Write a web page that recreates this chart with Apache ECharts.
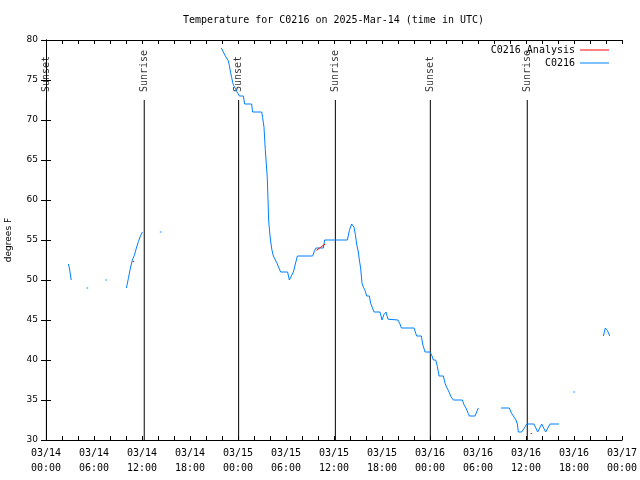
<!DOCTYPE html>
<html><head><meta charset="utf-8">
<script src="https://cdn.jsdelivr.net/npm/echarts@6/dist/echarts.min.js"></script>
<style>html,body{margin:0;padding:0;background:#fff}#c{width:640px;height:480px}</style>
</head><body><div id="c"></div>
<script>
const titleText = 'Temperature for C0216 on 2025-Mar-14 (time in UTC)';
const yAxisTitle = 'degrees F';
const dayLabels = ['03/14', '03/15', '03/16', '03/17'];
const hourLabels = ['00:00', '06:00', '12:00', '18:00'];

// Observations: hours since 03/14 00:00 UTC, temperature in F (null = gap)
const obsHours = [
  2.8, 2.92, 3.0, 3.08, 3.15, 3.2,
  5.08, 5.27, 5.3,
  7.43, 7.62, 7.65,
  10.05, 10.3, 10.55, 10.8, 11.05, 11.3, 11.55, 11.8, 12.05, 12.1,
  14.23, 14.42, 14.45,
  21.92, 22.17, 22.42, 22.66, 22.79, 22.92, 23.08, 23.21, 23.33, 23.46, 23.58, 23.71, 23.83, 23.96, 24.08, 24.17, 24.67, 24.83, 25.7, 25.83, 26.96,
  27.08, 27.25, 27.41, 27.66, 27.75, 27.83, 28.0, 28.13, 28.25, 28.42, 28.67, 28.83, 29.08, 29.33, 30.2, 30.42, 30.67, 30.92, 31.17, 31.42,
  33.33, 33.5, 33.75, 34.67, 34.83, 37.67, 37.92, 38.21, 38.5, 38.67, 38.83, 39.04, 39.17, 39.33, 39.5, 39.67, 39.88, 40.08, 40.42, 40.58,
  40.83, 41.0, 41.75, 42.0, 42.25, 42.5, 42.75, 44.0, 44.25, 44.42, 46.0, 46.33, 46.92, 47.08, 47.38, 48.0, 48.21, 48.42, 48.71, 48.92,
  49.13, 49.67, 49.88, 50.08, 50.38, 50.63, 50.92, 52.04, 52.25, 52.5, 52.79, 52.92, 53.63, 53.83, 54.04, 54.1,
  56.88, 57.92, 58.21, 58.42, 58.75, 58.92, 59.04, 59.46, 59.67, 59.92, 60.08, 61.0, 61.46, 61.96, 62.46, 63.0, 64.13, 64.2,
  65.93, 66.12, 66.15,
  69.67, 69.92, 70.17, 70.46
];
const obsTemps = [
  52, 51.5, 51, 50.5, 50, null,
  49, 49, null,
  50, 50, null,
  49, 50.2, 51.5, 52.5, 53.1, 54, 54.8, 55.5, 56, null,
  56, 56, null,
  79, 79, 78, 78, 77.4, 76.8, 75.9, 75.3, 74.7, 74.3, 74.1, 73.9, 73.6, 73.5, 73.4, 73, 73, 72, 72, 71, 71,
  70.3, 69.1, 66.3, 62.8, 60, 57.5, 55.5, 54.5, 53.7, 53, 53, 52.2, 52, 51, 51, 50, 50, 51, 52, 53,
  53, 53.5, 54, 54, 55, 55, 56.2, 57, 56.6, 55.7, 54.5, 53.5, 52.5, 51.5, 49.6, 49.1, 48.7, 48, 48, 47.1,
  47, 46, 46, 45, 45.7, 46, 45.1, 45, 44.5, 44, 44, 43, 43, 42, 41, 41, 40.6, 40, 40, 39.2,
  38, 38, 37.1, 36.6, 36, 35.4, 35, 35, 34.4, 34, 33.3, 33, 33, 33.5, 34, null,
  34, 34, 33.3, 33, 32.5, 32, 31, 31, 31.25, 31.7, 32, 32, 31, 32, 31, 32, 32, null,
  36, 36, null,
  43, 44, 43.7, 43
];

// Analysis points
const anaHours = [10.83, 11.02, 11.05, 33.8, 34.35, 34.9, 34.95, 60.58, 60.77];
const anaTemps = [52.3, 52.3, null, 53.7, 54.1, 54.5, null, 30.8, 30.8];

// Sun events (hours since 03/14 00:00 UTC)
const sunsetHours = [0.05, 24.08, 48.04];
const sunriseHours = [12.28, 36.17, 60.16];

const mono = 'DejaVu Sans Mono';
const sans = 'DejaVu Sans';

function pairs(hs, ts) {
  return hs.map((h, i) => [h, ts[i] === null ? '-' : ts[i]]);
}

const events = [];
sunsetHours.forEach(h => events.push({ h: h, name: 'Sunset' }));
sunriseHours.forEach(h => events.push({ h: h, name: 'Sunrise' }));
events.sort((a, b) => a.h - b.h);

const eventLineData = [];
events.forEach(e => {
  eventLineData.push([e.h, 30], [e.h, 72.5], [e.h, '-']);
});
const eventLabelData = events.map(e => [e.h, 73.5, e.name]);

const chart = echarts.init(document.getElementById('c'));

const baseX = {
  type: 'value', min: 0, max: 72, interval: 2,
  axisLine: { show: true, lineStyle: { color: '#000', width: 1 } },
  axisTick: { show: true, inside: true, length: 4, lineStyle: { color: '#000' } },
  splitLine: { show: false }
};
const baseY = {
  type: 'value', min: 30, max: 80, interval: 5,
  axisLine: { show: true, lineStyle: { color: '#000', width: 1 } },
  axisTick: { show: true, inside: true, length: 5, lineStyle: { color: '#000' } },
  splitLine: { show: false }
};

chart.setOption({
  animation: false,
  backgroundColor: '#fff',
  title: {
    text: titleText, left: 183, top: 15, padding: 0,
    textStyle: { fontFamily: mono, fontSize: 10, fontWeight: 'normal', color: '#000' }
  },
  legend: [
    {
      data: ['C0216 Analysis'], right: 31, top: 45, padding: 0, align: 'right',
      icon: 'rect', itemWidth: 29, itemHeight: 1,
      textStyle: { fontFamily: mono, fontSize: 10, color: '#000' }
    },
    {
      data: ['C0216'], right: 31, top: 58, padding: 0, align: 'right',
      icon: 'rect', itemWidth: 29, itemHeight: 1,
      textStyle: { fontFamily: mono, fontSize: 10, color: '#000' }
    }
  ],
  grid: { left: 46, right: 18, top: 40, bottom: 40, containLabel: false, outerBoundsMode: 'none' },
  xAxis: [
    Object.assign({}, baseX, {
      position: 'bottom',
      axisLabel: {
        show: true, margin: 6, lineHeight: 15, fontFamily: mono, fontSize: 10, color: '#000',
        formatter: function (v) {
          if (v % 6 !== 0) return '';
          return dayLabels[Math.floor(v / 24)] + '\n' + hourLabels[(v % 24) / 6];
        }
      }
    }),
    Object.assign({}, baseX, { position: 'top', axisLabel: { show: false } })
  ],
  yAxis: [
    Object.assign({}, baseY, {
      position: 'left',
      name: yAxisTitle, nameLocation: 'middle', nameRotate: 90, nameGap: 33,
      nameTextStyle: { fontFamily: sans, fontSize: 9, color: '#000' },
      axisLabel: { show: true, margin: 8, fontFamily: sans, fontSize: 9, color: '#000' }
    }),
    Object.assign({}, baseY, { position: 'right', axisLabel: { show: false } })
  ],
  series: [
    {
      name: 'sun events', type: 'line', data: eventLineData, showSymbol: false, symbol: 'none',
      lineStyle: { color: '#000', width: 1 }, silent: true, z: 1
    },
    {
      name: 'sun labels', type: 'scatter', data: eventLabelData, symbolSize: 0, silent: true, z: 1,
      label: {
        show: true, position: 'inside', rotate: 90, align: 'left', verticalAlign: 'middle',
        fontFamily: mono, fontSize: 10, color: '#000',
        formatter: p => p.value[2]
      }
    },
    {
      name: 'C0216 Analysis', type: 'line', data: pairs(anaHours, anaTemps),
      showSymbol: false, symbol: 'none', color: '#ff0000',
      lineStyle: { color: '#ff0000', width: 1 }, itemStyle: { color: '#ff0000' }, z: 3
    },
    {
      name: 'C0216', type: 'line', data: pairs(obsHours, obsTemps),
      showSymbol: false, symbol: 'none', color: '#0080ff',
      lineStyle: { color: '#0080ff', width: 1 }, itemStyle: { color: '#0080ff' }, z: 2
    }
  ]
});
</script>
</body></html>
